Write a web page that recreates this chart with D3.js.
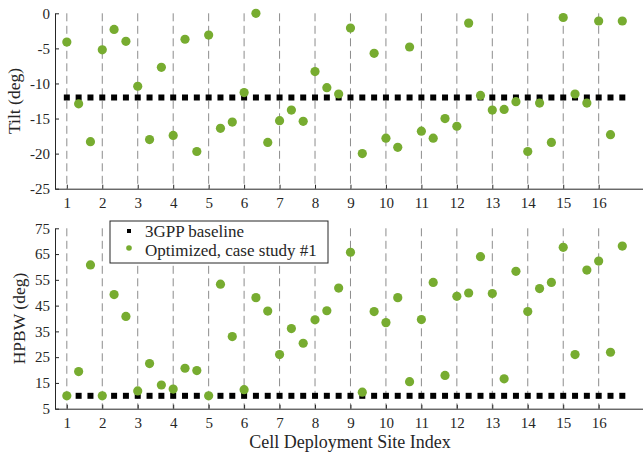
<!DOCTYPE html>
<html>
<head>
<meta charset="utf-8">
<script src="https://cdn.jsdelivr.net/npm/d3@7"></script>
<style>
  body { margin: 0; background: #fff; }
  text { font-family: "Liberation Serif", "DejaVu Serif", serif; fill: #262626; }
</style>
</head>
<body>
<svg class="viz"></svg>
<script>
var width = 643,
  height = 456;

// three sectors per site: x = site, site + 1/3, site + 2/3
var sites = d3.range(1, 17);

var tilt_baseline = -12;
var hpbw_baseline = 10;

var tilt_opt = [
  -4.1, -12.9, -18.3, -5.2, -2.3, -4.0, -10.4, -18.0, -7.7, -17.4, -3.7, -19.7,
  -3.1, -16.4, -15.5, -11.3, 0.0, -18.4, -15.3, -13.8, -15.4, -8.3, -10.6, -11.5,
  -2.1, -20.0, -5.7, -17.8, -19.1, -4.8, -16.8, -17.8, -15.0, -16.1, -1.4, -11.7,
  -13.8, -13.7, -12.6, -19.7, -12.8, -18.4, -0.6, -11.5, -12.8, -1.1, -17.3, -1.1
];

var hpbw_opt = [
  10.0, 19.4, 60.8, 10.0, 49.3, 40.8, 11.9, 22.5, 14.2, 12.6, 20.7, 19.8,
  10.0, 53.3, 33.0, 12.4, 48.1, 42.9, 26.0, 36.1, 30.4, 39.5, 43.0, 51.8,
  65.7, 11.4, 42.7, 38.4, 48.1, 15.5, 39.6, 54.0, 17.9, 48.6, 49.9, 64.0,
  49.7, 16.6, 58.3, 42.7, 51.6, 54.0, 67.6, 26.0, 58.8, 62.3, 26.9, 68.1
];

var tilt_ticks = [0, -5, -10, -15, -20, -25];
var hpbw_ticks = [5, 15, 25, 35, 45, 55, 65, 75];

var sector_x = [];
sites.forEach(function(s) {
  for (let k = 0; k < 3; k++) sector_x.push(s + k / 3);
});

var green = "#77ac30";

var svg = d3.select(".viz")
  .attr("width", width)
  .attr("height", height);

var x = d3.scaleLinear().domain([2 / 3, 17.25]).range([55, 643]);

function draw_panel(top, bottom, domain, ticks, base, opt, label) {
  var y = d3.scaleLinear().domain(domain).range([bottom, top]);
  var g = svg.append("g");

  // dashed site separators
  g.selectAll("line.site")
    .data(sites)
    .enter()
    .append("line")
    .attr("x1", d => x(d)).attr("x2", d => x(d))
    .attr("y1", top).attr("y2", bottom)
    .attr("stroke", "#8c8c8c")
    .attr("stroke-width", 1)
    .attr("stroke-dasharray", "8,4.5");

  var xa = g.append("g")
    .attr("transform", "translate(0," + bottom + ")")
    .call(d3.axisBottom(x).tickValues(sites).tickSizeInner(-4).tickSizeOuter(0).tickPadding(9));
  var ya = g.append("g")
    .attr("transform", "translate(55,0)")
    .call(d3.axisLeft(y).tickValues(ticks).tickSizeInner(-4).tickSizeOuter(0).tickPadding(5)
      .tickFormat(d3.format("d")));
  [xa, ya].forEach(function(a) {
    a.select(".domain").attr("stroke", "#262626");
    a.selectAll(".tick line").attr("stroke", "#262626");
    a.selectAll("text").style("font-size", "15px").attr("fill", "#262626");
  });
  ya.selectAll("text").text(d => d < 0 ? "-" + Math.abs(d) : d);

  // baseline squares
  g.selectAll("rect.base")
    .data(sector_x)
    .enter()
    .append("rect")
    .attr("x", d => x(d) - 3)
    .attr("y", y(base) - 3)
    .attr("width", 6)
    .attr("height", 6)
    .attr("fill", "#000");

  // optimized dots
  g.selectAll("circle.opt")
    .data(opt)
    .enter()
    .append("circle")
    .attr("cx", (d, i) => x(sector_x[i]))
    .attr("cy", d => y(d))
    .attr("r", 4.6)
    .attr("fill", green);

  svg.append("text")
    .attr("transform", "translate(" + label.x + "," + ((top + bottom) / 2) + ") rotate(-90)")
    .attr("text-anchor", "middle")
    .style("font-size", "17.5px")
    .text(label.text);
  return y;
}

draw_panel(13.3, 188.7, [-25, 0], tilt_ticks, tilt_baseline, tilt_opt, {x: 20, text: "Tilt (deg)"});
draw_panel(228.3, 408.7, [5, 75], hpbw_ticks, hpbw_baseline, hpbw_opt, {x: 25, text: "HPBW (deg)"});

svg.append("text")
  .attr("x", 350)
  .attr("y", 448)
  .attr("text-anchor", "middle")
  .style("font-size", "18px")
  .text("Cell Deployment Site Index");

// legend
var legend = svg.append("g").attr("transform", "translate(110,221)");
legend.append("rect")
  .attr("width", 218).attr("height", 42)
  .attr("fill", "#fff")
  .attr("stroke", "#262626")
  .attr("stroke-width", 1);
legend.append("rect")
  .attr("x", 17).attr("y", 8).attr("width", 4).attr("height", 4)
  .attr("fill", "#000");
legend.append("circle")
  .attr("cx", 19).attr("cy", 27).attr("r", 2.8)
  .attr("fill", green);
legend.selectAll("text.lg")
  .data(["3GPP baseline", "Optimized, case study #1"])
  .enter()
  .append("text")
  .attr("x", 35)
  .attr("y", (d, i) => 15.5 + i * 19)
  .style("font-size", "17px")
  .text(d => d);
</script>
</body>
</html>
